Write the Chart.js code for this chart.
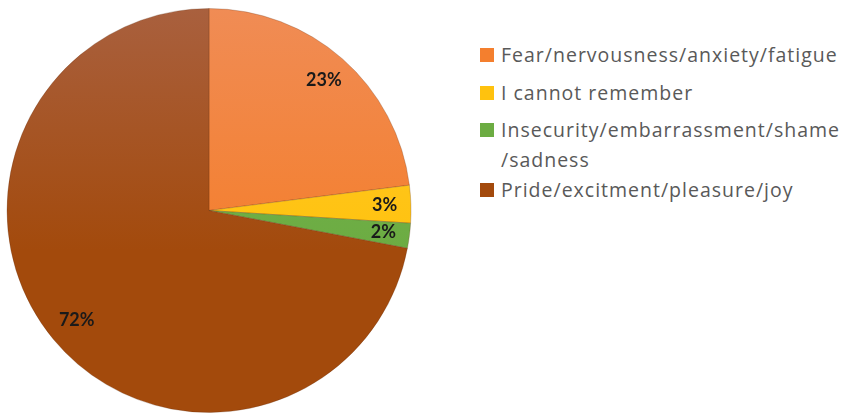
<!DOCTYPE html>
<html>
<head>
<meta charset="utf-8">
<script src="https://cdn.jsdelivr.net/npm/chart.js@4.4.1/dist/chart.umd.min.js"></script>
<style>
    body { margin: 0; background: #fff; }
    .wrap { position: relative; width: 848px; height: 413px; }
    .pie-box { position: absolute; left: 0; top: 0; width: 418px; height: 413px; }
    .legend { position: absolute; left: 480px; top: 40px; margin: 0; padding: 0; list-style: none;
        font-family: 'Open Sans', Lato, sans-serif; font-size: 19.5px; letter-spacing: 1px; color: #595959; }
    .legend li { position: relative; padding-left: 21px; line-height: 30px; margin-bottom: 7.5px; white-space: nowrap; }
    .legend li.multi { margin-bottom: 0; }
    .legend li span { position: absolute; left: 0; top: 8px; width: 14px; height: 14px; }
</style>
</head>
<body>
<div class="wrap">
    <div class="pie-box"><canvas class="pie-chart"></canvas></div>
    <ul class="legend"></ul>
</div>
<script>
const labels = [
    'Fear/nervousness/anxiety/fatigue',
    'I cannot remember',
    ['Insecurity/embarrassment/shame', '/sadness'],
    'Pride/excitment/pleasure/joy'
];
const values = [23, 3, 2, 72];
const colors = ['#F47F2E', '#FFC20E', '#6CAC42', '#A34A0C'];
const topColors = ['#F08C55', '#FFCB30', '#78B556', '#A9603E'];

// how far out (fraction of radius) each percentage label sits
const labelRadius = [0.86, 0.87, 0.87, 0.85];

const pctLabels = {
    id: 'pctLabels',
    afterDatasetsDraw(chart) {
        const c = chart.ctx;
        const meta = chart.getDatasetMeta(0);
        c.save();
        c.font = 'bold 18px Lato, "Open Sans", sans-serif';
        c.fillStyle = '#1a1a1a';
        c.textAlign = 'center';
        c.textBaseline = 'middle';
        meta.data.forEach((arc, i) => {
            const p = arc.getProps(['x', 'y', 'startAngle', 'endAngle', 'outerRadius'], true);
            const a = (p.startAngle + p.endAngle) / 2;
            const r = p.outerRadius * labelRadius[i];
            c.fillText(values[i] + '%', p.x + Math.cos(a) * r, p.y + Math.sin(a) * r);
        });
        c.restore();
    }
};

const ctx = document.querySelector('.pie-chart');

new Chart(ctx, {
    type: 'pie',
    data: {
        labels: labels,
        datasets: [{
            data: values,
            backgroundColor: (context) => {
                const area = context.chart.chartArea;
                if (!area) return colors[context.dataIndex];
                const g = context.chart.ctx.createLinearGradient(0, area.top, 0, area.bottom);
                g.addColorStop(0, topColors[context.dataIndex]);
                g.addColorStop(0.6, colors[context.dataIndex]);
                g.addColorStop(1, colors[context.dataIndex]);
                return g;
            },
            borderColor: 'rgba(90,40,10,0.25)',
            borderWidth: 1
        }]
    },
    options: {
        responsive: true,
        maintainAspectRatio: false,
        animation: false,
        layout: {
            padding: { top: 8, bottom: 0, left: 0, right: 0 }
        },
        plugins: {
            legend: { display: false },
            tooltip: { enabled: false }
        }
    },
    plugins: [pctLabels]
});

// legend on the right, built from the same arrays
const ul = document.querySelector('.legend');
labels.forEach((l, i) => {
    const li = document.createElement('li');
    const sw = document.createElement('span');
    sw.style.background = colors[i];
    li.appendChild(sw);
    const lines = Array.isArray(l) ? l : [l];
    if (lines.length > 1) li.className = 'multi';
    lines.forEach((t, j) => {
        if (j > 0) li.appendChild(document.createElement('br'));
        li.appendChild(document.createTextNode(t));
    });
    ul.appendChild(li);
});
</script>
</body>
</html>
